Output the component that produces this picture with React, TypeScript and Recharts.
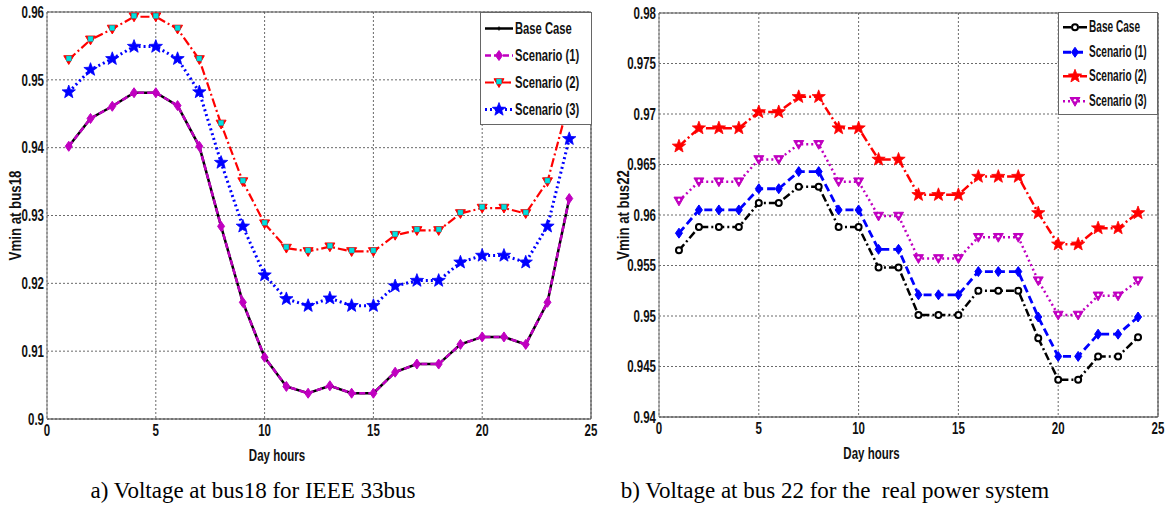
import { LineChart, Line, XAxis, YAxis, CartesianGrid, ReferenceLine, Legend } from 'recharts'

// ---- data ----
const hours = [1, 2, 3, 4, 5, 6, 7, 8, 9, 10, 11, 12, 13, 14, 15, 16, 17, 18, 19, 20, 21, 22, 23, 24]
const hourTicks = [0, 5, 10, 15, 20, 25]

// a) bus18, IEEE 33 bus
const bus18Ticks = [0.9, 0.91, 0.92, 0.93, 0.94, 0.95, 0.96]
const bus18Base = [0.9402, 0.9443, 0.9461, 0.9481, 0.9481, 0.9462, 0.9402, 0.9284, 0.9172, 0.9091, 0.9048, 0.9038, 0.9049, 0.9038, 0.9038, 0.9069, 0.9081, 0.9081, 0.9110, 0.9121, 0.9121, 0.9110, 0.9172, 0.9325]
const bus18S1 = [0.9402, 0.9443, 0.9461, 0.9481, 0.9481, 0.9462, 0.9402, 0.9284, 0.9172, 0.9091, 0.9048, 0.9038, 0.9049, 0.9038, 0.9038, 0.9069, 0.9081, 0.9081, 0.9110, 0.9121, 0.9121, 0.9110, 0.9172, 0.9325]
const bus18S2 = [0.9530, 0.9559, 0.9575, 0.9593, 0.9593, 0.9575, 0.9530, 0.9435, 0.9350, 0.9288, 0.9252, 0.9247, 0.9254, 0.9247, 0.9247, 0.9271, 0.9278, 0.9278, 0.9303, 0.9311, 0.9311, 0.9303, 0.9350, 0.9470]
const bus18S3 = [0.9482, 0.9515, 0.9531, 0.9549, 0.9549, 0.9531, 0.9482, 0.9378, 0.9284, 0.9212, 0.9177, 0.9167, 0.9178, 0.9167, 0.9167, 0.9196, 0.9204, 0.9204, 0.9231, 0.9241, 0.9241, 0.9231, 0.9284, 0.9413]

// b) bus22, real power system
const bus22Ticks = [0.94, 0.945, 0.95, 0.955, 0.96, 0.965, 0.97, 0.975, 0.98]
const bus22Base = [0.9565, 0.9588, 0.9588, 0.9588, 0.9612, 0.9612, 0.9628, 0.9628, 0.9588, 0.9588, 0.9548, 0.9548, 0.9501, 0.9501, 0.9501, 0.9525, 0.9525, 0.9525, 0.9478, 0.9437, 0.9437, 0.9460, 0.9460, 0.9479]
const bus22S1 = [0.9582, 0.9605, 0.9605, 0.9605, 0.9626, 0.9626, 0.9643, 0.9643, 0.9605, 0.9605, 0.9566, 0.9566, 0.9521, 0.9521, 0.9521, 0.9544, 0.9544, 0.9544, 0.9499, 0.9460, 0.9460, 0.9482, 0.9482, 0.9499]
const bus22S2 = [0.9668, 0.9686, 0.9686, 0.9686, 0.9702, 0.9702, 0.9717, 0.9717, 0.9686, 0.9686, 0.9655, 0.9655, 0.9620, 0.9620, 0.9620, 0.9638, 0.9638, 0.9638, 0.9602, 0.9571, 0.9571, 0.9587, 0.9587, 0.9602]
const bus22S3 = [0.9614, 0.9633, 0.9633, 0.9633, 0.9655, 0.9655, 0.9670, 0.9670, 0.9633, 0.9633, 0.9599, 0.9599, 0.9557, 0.9557, 0.9557, 0.9578, 0.9578, 0.9578, 0.9535, 0.9501, 0.9501, 0.9520, 0.9520, 0.9535]

const seriesNames = ['Base Case', 'Scenario (1)', 'Scenario (2)', 'Scenario (3)']

const bus18Rows = hours.map((h, i) => ({ h, base: bus18Base[i], s1: bus18S1[i], s2: bus18S2[i], s3: bus18S3[i] }))
const bus22Rows = hours.map((h, i) => ({ h, base: bus22Base[i], s1: bus22S1[i], s2: bus22S2[i], s3: bus22S3[i] }))

// the figure's Arial is squeezed sideways, so text is drawn bold and narrowed
const FONT = "'Liberation Sans', Arial, sans-serif"
const SQUEEZE = 0.72
const MAG = '#c000c0'

type Shape = 'plus' | 'diamond' | 'tri' | 'trisq' | 'star' | 'circle'
type Style = { key: string; color: string; dash?: string; width: number; shape: Shape; r: number; fill?: string }

const leftStyles: Style[] = [
  { key: 'base', color: '#000', width: 2.5, shape: 'plus', r: 2 },
  { key: 's1', color: MAG, dash: '6 3', width: 2.5, shape: 'diamond', r: 5 },
  { key: 's2', color: '#ff0000', dash: '9 3 2 3', width: 2.2, shape: 'trisq', r: 5 },
  { key: 's3', color: '#0000ff', dash: '2 3', width: 3, shape: 'star', r: 7 },
]
const rightStyles: Style[] = [
  { key: 'base', color: '#000', dash: '8 3 2 3', width: 2.5, shape: 'circle', r: 3, fill: '#fff' },
  { key: 's1', color: '#0000ff', dash: '8 4', width: 2.8, shape: 'diamond', r: 5 },
  { key: 's2', color: '#ff0000', dash: '9 3 2 3', width: 2.5, shape: 'star', r: 7 },
  { key: 's3', color: MAG, dash: '2 3', width: 2.5, shape: 'tri', r: 5 },
]

function starPoints(cx: number, cy: number, R: number, r: number) {
  const pts: string[] = []
  for (let k = 0; k < 10; k++) {
    const a = -Math.PI / 2 + (k * Math.PI) / 5
    const rad = k % 2 === 0 ? R : r
    pts.push(`${cx + rad * Math.cos(a)},${cy + rad * Math.sin(a)}`)
  }
  return pts.join(' ')
}

function Mark({ s, cx, cy }: { s: Style; cx: number; cy: number }) {
  const r = s.r
  if (s.shape === 'plus') {
    return (
      <g stroke={s.color} strokeWidth={1.2}>
        <line x1={cx - r} y1={cy} x2={cx + r} y2={cy} />
        <line x1={cx} y1={cy - r} x2={cx} y2={cy + r} />
      </g>
    )
  }
  if (s.shape === 'diamond') {
    return <polygon points={`${cx},${cy - r} ${cx + r * 0.7},${cy} ${cx},${cy + r} ${cx - r * 0.7},${cy}`} fill={s.color} stroke={s.color} strokeWidth={1} />
  }
  if (s.shape === 'tri' || s.shape === 'trisq') {
    return (
      <g>
        <polygon points={`${cx - r},${cy - r * 0.75} ${cx + r},${cy - r * 0.75} ${cx},${cy + r}`} fill={s.color} stroke={s.color} strokeWidth={1} />
        {s.shape === 'trisq' ? (
          <rect x={cx - 2.5} y={cy - 3.5} width={5} height={5} fill="#00e0e0" stroke="#0aa" strokeWidth={0.5} />
        ) : (
          <circle cx={cx} cy={cy - 1} r={1.3} fill="#fff" />
        )}
      </g>
    )
  }
  if (s.shape === 'star') {
    return <polygon points={starPoints(cx, cy, r, r * 0.42)} fill={s.color} stroke={s.color} strokeWidth={0.8} />
  }
  return <circle cx={cx} cy={cy} r={r} fill={s.fill ?? s.color} stroke={s.color} strokeWidth={2} />
}

function SqueezedTick(props: any) {
  const { x, y, payload, textAnchor, axis } = props
  const dy = axis === 'x' ? '0.72em' : '0.36em'
  return (
    <text
      transform={`translate(${x},${y}) scale(${SQUEEZE},1)`}
      textAnchor={textAnchor}
      dy={dy}
      fontFamily={FONT}
      fontWeight="bold"
      fontSize={16}
      fill="#111"
    >
      {String(payload.value)}
    </text>
  )
}

function AxisTitle({ viewBox, value, vertical, dx = 0, dy = 0 }: any) {
  const vb = viewBox || {}
  const x = (vb.x ?? 0) + (vb.width ?? 0) / 2 + dx
  const y = vertical ? (vb.y ?? 0) + (vb.height ?? 0) / 2 + dy : (vb.y ?? 0) + dy
  const t = vertical ? `translate(${x},${y}) rotate(-90) scale(0.78,1)` : `translate(${x},${y}) scale(${SQUEEZE},1)`
  return (
    <text transform={t} textAnchor="middle" dy="0.36em" fontFamily={FONT} fontWeight="bold" fontSize={vertical ? 17 : 16} fill="#111">
      {value}
    </text>
  )
}

type LegendCfg = { left: number; width: number; rowH: number; fontSize: number; sample: number; squeeze: number }

function LegendBox({ styles, cfg }: { styles: Style[]; cfg: LegendCfg }) {
  return (
    <div style={{ width: cfg.width, boxSizing: 'border-box', border: '1px solid #666', background: '#fff', padding: '2px 0 1px 3px', fontFamily: FONT, fontWeight: 'bold', fontSize: cfg.fontSize }}>
      {styles.map((s, i) => (
        <div key={s.key} style={{ height: cfg.rowH, display: 'flex', alignItems: 'center' }}>
          <svg width={cfg.sample + 3} height={cfg.rowH} style={{ flex: 'none' }}>
            <line x1={1} y1={cfg.rowH / 2} x2={cfg.sample + 1} y2={cfg.rowH / 2} stroke={s.color} strokeWidth={s.width} strokeDasharray={s.dash} />
            <Mark s={s} cx={cfg.sample / 2 + 1} cy={cfg.rowH / 2} />
          </svg>
          <span style={{ color: '#111', whiteSpace: 'nowrap', display: 'inline-block', transform: `scaleX(${cfg.squeeze})`, transformOrigin: 'left center' }}>
            {seriesNames[i]}
          </span>
        </div>
      ))}
    </div>
  )
}

function Panel(props: {
  rows: typeof bus18Rows
  styles: Style[]
  yTicks: number[]
  yLabel: string
  yWidth: number
  width: number
  top: number
  plotBottom: number
  xLabelDx: number
  yLabelDx: number
  legend: LegendCfg
}) {
  const { rows, styles, yTicks, yLabel, yWidth, width, top, plotBottom, xLabelDx, yLabelDx, legend } = props
  const yMin = yTicks[0]
  const yMax = yTicks[yTicks.length - 1]
  return (
    <LineChart width={width} height={470} data={rows} margin={{ top, right: 9, bottom: 0, left: 0 }}>
      <CartesianGrid stroke="#444" strokeDasharray="2 2" strokeWidth={0.8} />
      <XAxis
        dataKey="h"
        type="number"
        domain={[0, 25]}
        ticks={hourTicks}
        height={470 - plotBottom}
        interval={0}
        tickLine={false}
        tickSize={4}
        tickMargin={1}
        stroke="#333"
        tick={<SqueezedTick axis="x" />}
        label={<AxisTitle value="Day hours" dx={xLabelDx} dy={36} />}
      />
      <YAxis
        type="number"
        domain={[yMin, yMax]}
        ticks={yTicks}
        width={yWidth}
        interval={0}
        tickLine={false}
        tickSize={3}
        tickMargin={0}
        stroke="#777"
        tick={<SqueezedTick axis="y" />}
        allowDataOverflow
        label={<AxisTitle value={yLabel} vertical dx={yLabelDx} />}
      />
      <ReferenceLine y={yMax} stroke="#555" strokeWidth={1.2} />
      <ReferenceLine x={25} stroke="#555" strokeWidth={1.2} />
      {styles.map((s, i) => (
        <Line
          key={s.key}
          dataKey={s.key}
          name={seriesNames[i]}
          type="linear"
          stroke={s.color}
          strokeWidth={s.width}
          strokeDasharray={s.dash}
          isAnimationActive={false}
          dot={(p: any) => <Mark key={`${s.key}-${p.index}`} s={s} cx={p.cx} cy={p.cy} />}
          activeDot={false}
        />
      ))}
      <Legend
        layout="vertical"
        align="center"
        verticalAlign="middle"
        wrapperStyle={{ top: 12, left: legend.left, width: legend.width, height: 'auto' }}
        content={() => <LegendBox styles={styles} cfg={legend} />}
      />
    </LineChart>
  )
}

const captionStyle = {
  position: 'absolute' as const,
  top: 478,
  fontFamily: "'Liberation Serif', 'Times New Roman', serif",
  fontSize: 23,
  lineHeight: '26px',
  color: '#000',
  whiteSpace: 'nowrap' as const,
  transform: 'translateX(-50%)',
}

export default function App() {
  return (
    <div style={{ position: 'absolute', left: 0, top: 0, width: 1167, height: 512, background: '#fff', overflow: 'hidden' }}>
      <div style={{ position: 'absolute', left: 0, top: 0 }}>
        <Panel
          rows={bus18Rows}
          styles={leftStyles}
          yTicks={bus18Ticks}
          yLabel="Vmin at bus18"
          yWidth={47}
          width={600}
          top={12}
          plotBottom={419}
          xLabelDx={-42}
          yLabelDx={-9}
          legend={{ left: 480, width: 112, rowH: 27, fontSize: 17, sample: 28, squeeze: 0.66 }}
        />
      </div>
      <div style={{ position: 'absolute', left: 600, top: 0 }}>
        <Panel
          rows={bus22Rows}
          styles={rightStyles}
          yTicks={bus22Ticks}
          yLabel="Vmin at bus22"
          yWidth={59}
          width={567}
          top={13}
          plotBottom={417}
          xLabelDx={-37}
          yLabelDx={-7}
          legend={{ left: 458, width: 100, rowH: 24.5, fontSize: 16, sample: 24, squeeze: 0.63 }}
        />
      </div>
      <div style={{ ...captionStyle, left: 253 }}>a) Voltage at bus18 for IEEE 33bus</div>
      <div style={{ ...captionStyle, left: 835 }}>b) Voltage at bus 22 for the&nbsp; real power system</div>
    </div>
  )
}
